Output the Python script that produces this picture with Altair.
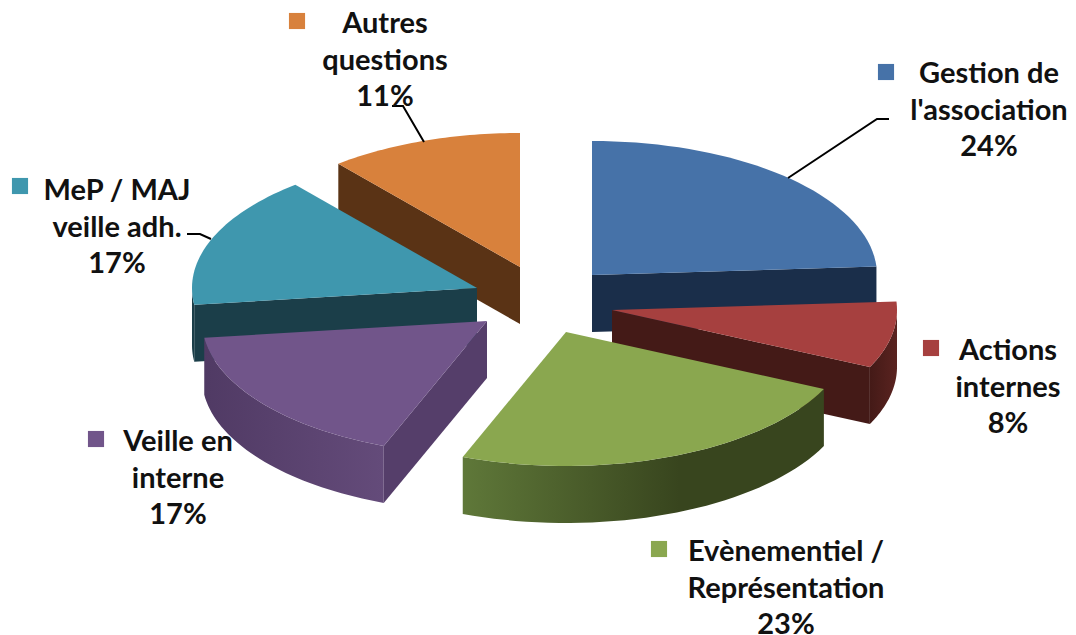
import numpy as np
import pandas as pd
import altair as alt

names = ["Gestion de\nl'association", "Actions\ninternes", "Evènementiel /\nReprésentation",
         "Veille en\ninterne", "MeP / MAJ\nveille adh.", "Autres\nquestions"]
percent_labels = ["24%", "8%", "23%", "17%", "17%", "11%"]
# shares
shares = [24.0, 8.0, 23.9, 17.1, 16.0, 11.0]
top_colors = ["#4672a8", "#a6403f", "#8aa74f", "#71558a", "#3f97ae", "#d8813c"]
wall_dark = ["#1a2e4a", "#441a17", "#38451e", "#553e6a", "#1b3e49", "#5a3315"]
wall_light = ["#1a2e4a", "#5a2320", "#5f7839", "#644b7a", "#1b3e49", "#5a3315"]
wall_deep = "#503a64"

# layout of the exploded pie
apex = [(592, 275), (612, 310), (566, 332), (487, 321), (477, 288), (520, 267)]
RX, RY, DEPTH = 285, 134, 57
label_xy = [(989, 74), (1008, 351), (786, 552), (178, 442), (117, 191), (385, 24)]
key_xy = [(886, 72), (931, 348), (659, 549), (96, 439), (20, 186), (297, 21)]
leaders = [[(788, 178), (877, 119), (889, 119)],
           [(424, 142), (403, 106), (392, 106)],
           [(211, 239), (200, 234), (187, 234)]]

X = alt.X("x:Q", scale=alt.Scale(domain=[8, 1068], nice=False, zero=False), axis=None)
Y = alt.Y("y:Q", scale=alt.Scale(domain=[635, 8], nice=False, zero=False), axis=None)

edges = np.concatenate([[0], np.cumsum(shares)]) * 3.6


def rim(i, a, b, drop=0):
    t = np.radians(np.linspace(a, b, 40))
    return list(zip(apex[i][0] + RX * np.sin(t), apex[i][1] - RY * np.cos(t) + drop))


def polygon(pts, fill):
    df = pd.DataFrame(pts, columns=["x", "y"]).assign(i=range(len(pts)))
    return alt.Chart(df).mark_line(fill=fill, stroke=None, strokeWidth=0, interpolate="linear").encode(
        x=X, y=Y, order="i:Q")


def gradient(a, b, mid=None):
    stops = [alt.GradientStop(color=a, offset=0)]
    if mid is not None:
        stops.append(alt.GradientStop(color=b, offset=mid))
    stops.append(alt.GradientStop(color=b, offset=1))
    return alt.Gradient(gradient="linear", x1=0, y1=0, x2=1, y2=0, stops=stops)


def cut_face(i, angle):
    t = np.radians(angle)
    ex, ey = apex[i][0] + RX * np.sin(t), apex[i][1] - RY * np.cos(t)
    ax, ay = apex[i]
    return polygon([(ax, ay), (ex, ey), (ex, ey + DEPTH), (ax, ay + DEPTH)], wall_dark[i])


def outer_wall(i, a, b, fill):
    return polygon(rim(i, a, b) + rim(i, a, b, DEPTH)[::-1], fill)


def top(i):
    return polygon([apex[i]] + rim(i, edges[i], edges[i + 1]), top_colors[i])


layers = []
# orange
layers += [cut_face(5, edges[5]), top(5)]
# teal
layers += [cut_face(4, edges[4]), outer_wall(4, edges[4], 270, wall_dark[4]), top(4)]
# blue
layers += [cut_face(0, edges[1]), top(0)]
# purple
layers += [cut_face(3, edges[3]),
           outer_wall(3, edges[3], edges[4], gradient(wall_deep, wall_light[3])), top(3)]
# red
layers += [cut_face(1, edges[2]),
           outer_wall(1, 90, edges[2], gradient(wall_dark[1], wall_light[1])), top(1)]
# green
layers += [outer_wall(2, edges[2], edges[3], gradient(wall_light[2], wall_dark[2], 0.6)), top(2)]

for k, line in enumerate(leaders):
    df = pd.DataFrame(line, columns=["x", "y"]).assign(i=range(len(line)))
    layers.append(alt.Chart(df).mark_line(color="black", strokeWidth=2).encode(x=X, y=Y, order="i:Q"))

keys = pd.DataFrame({"x": [p[0] for p in key_xy], "y": [p[1] for p in key_xy], "c": top_colors})
layers.append(alt.Chart(keys).mark_square(size=260, opacity=1, filled=True).encode(
    x=X, y=Y, color=alt.Color("c:N", scale=None)))

text = pd.DataFrame({"x": [p[0] for p in label_xy], "y": [p[1] for p in label_xy],
                     "t": [f"{n}\n{p}" for n, p in zip(names, percent_labels)]})
layers.append(alt.Chart(text).mark_text(font="Lato", fontWeight="bold", fontSize=29, color="#111111",
                                        lineBreak="\n", lineHeight=36.5, align="center",
                                        baseline="middle").encode(x=X, y=Y, text="t:N"))

chart = alt.layer(*layers).properties(width=1060, height=627, padding=0,
                                      autosize=alt.AutoSizeParams(type="none"),
                                      background="white").configure_view(stroke=None)
chart.save("out.html", embed_options={"renderer": "svg", "actions": False})
